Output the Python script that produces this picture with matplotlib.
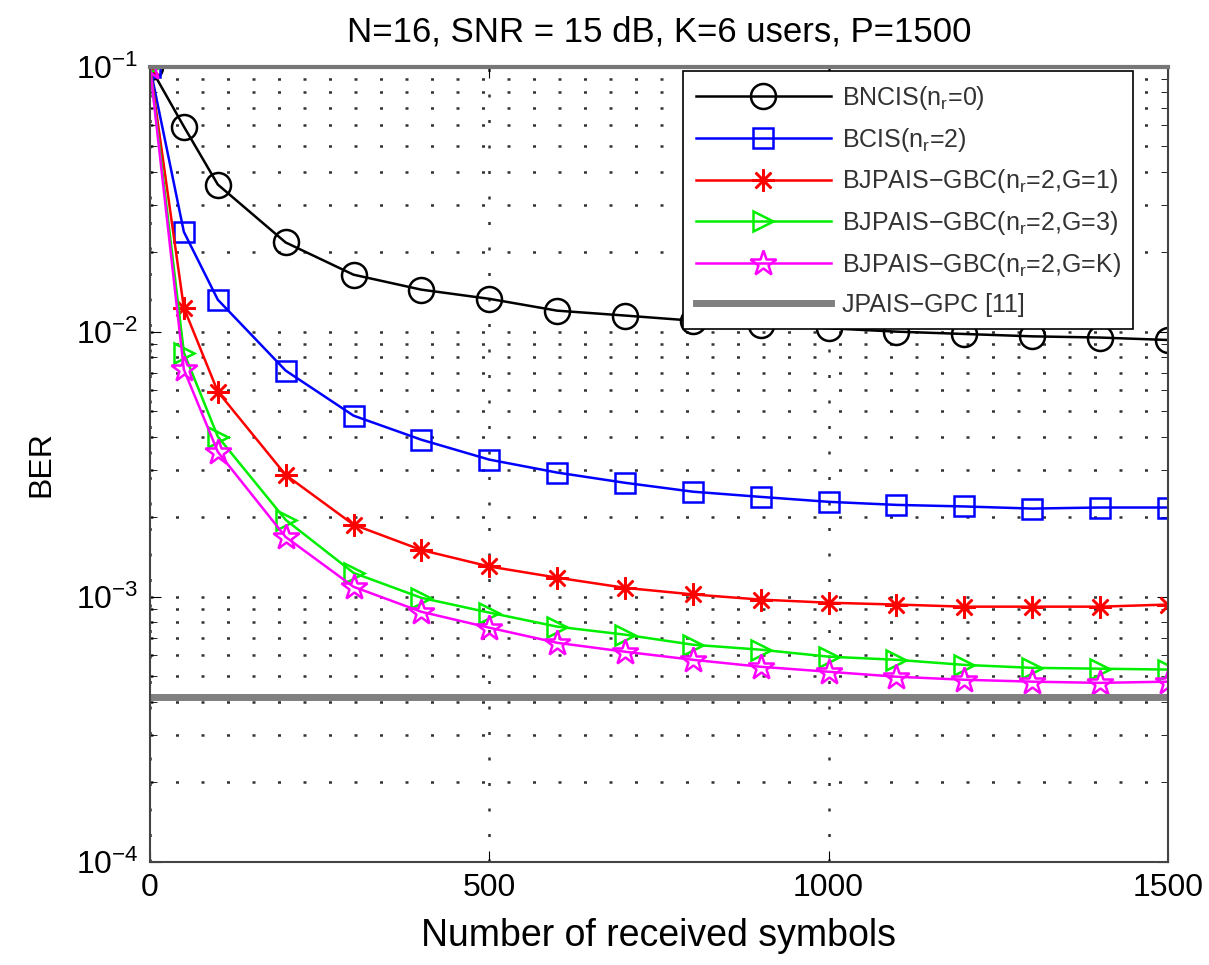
import matplotlib
matplotlib.use("Agg")
import matplotlib.pyplot as plt

plt.rcParams["font.family"] = ["Liberation Sans", "DejaVu Sans"]
plt.rcParams["mathtext.fontset"] = "custom"
plt.rcParams["mathtext.rm"] = "Liberation Sans"
plt.rcParams["mathtext.it"] = "Liberation Sans:italic"
plt.rcParams["mathtext.default"] = "regular"

# ---- dados ----
simbolos = [0, 50, 100, 200, 300, 400, 500, 600, 700, 800, 900,
            1000, 1100, 1200, 1300, 1400, 1500]

ber_bncis = [0.1, 0.0594, 0.0359, 0.0217, 0.0164, 0.0144, 0.0133, 0.0120,
             0.0115, 0.0110, 0.0106, 0.0103, 0.0100, 0.0098, 0.0096, 0.0095,
             0.0093]
ber_bcis = [0.1, 0.0238, 0.0132, 0.00713, 0.00482, 0.00391, 0.00329, 0.00294,
            0.00269, 0.00249, 0.00238, 0.00228, 0.00222, 0.00219, 0.00215,
            0.00217, 0.00217]
ber_g1 = [0.1, 0.0123, 0.00594, 0.00288, 0.00187, 0.00150, 0.00130, 0.00118,
          0.00108, 0.00102, 0.000975, 0.000949, 0.000934, 0.000917, 0.000917,
          0.000917, 0.000934]
ber_g3 = [0.1, 0.00834, 0.00402, 0.00195, 0.00123, 0.00099, 0.000871,
          0.000771, 0.000719, 0.000659, 0.000631, 0.000594, 0.000578,
          0.000553, 0.000539, 0.000535, 0.000531]
ber_gk = [0.1, 0.0072, 0.00352, 0.00168, 0.00109, 0.000877, 0.000764,
          0.000670, 0.000620, 0.000578, 0.000544, 0.000521, 0.000499,
          0.000486, 0.000478, 0.000473, 0.000478]
ber_jpais = 0.00042

rotulos = ["BNCIS(n$_r$=0)", "BCIS(n$_r$=2)", "BJPAIS\u2212GBC(n$_r$=2,G=1)",
           "BJPAIS\u2212GBC(n$_r$=2,G=3)", "BJPAIS\u2212GBC(n$_r$=2,G=K)",
           "JPAIS\u2212GPC [11]"]

fig = plt.figure(figsize=(12.09, 9.65), dpi=100)
ax = fig.add_axes([0.124, 0.107, 0.842, 0.824])

ax.plot(simbolos, ber_bncis, color="black", lw=1.8, marker="o", ms=18,
        mfc="none", mew=1.8, label=rotulos[0])
ax.plot(simbolos, ber_bcis, color="#0000ff", lw=1.8, marker="s", ms=14,
        mfc="none", mew=1.8, label=rotulos[1])
ax.plot(simbolos, ber_g1, color="#ff0000", lw=1.8, marker=(8, 2, 0), ms=16,
        mew=1.8, label=rotulos[2])
ax.plot(simbolos, ber_g3, color="#00ee00", lw=1.8, marker=">", ms=15,
        mfc="none", mew=1.8, label=rotulos[3])
ax.plot(simbolos, ber_gk, color="#ff00ff", lw=1.8, marker="*", ms=19,
        mfc="none", mew=1.8, label=rotulos[4])
ax.plot([simbolos[0], simbolos[-1]], [ber_jpais, ber_jpais], color="#808080",
        lw=5, label=rotulos[5])

ax.set_yscale("log")
ax.set_xlim(0, 1500)
ax.set_ylim(1e-4, 1e-1)
ax.set_xticks([0, 500, 1000, 1500])

pontilhado = (0, (1.2, 9))
ax.grid(True, which="major", axis="both", ls=pontilhado, color="#333333",
        lw=1.8)
ax.grid(True, which="minor", axis="y", ls=pontilhado, color="#333333", lw=1.8)
ax.tick_params(which="both", direction="in", top=True, right=True)
ax.tick_params(which="major", length=8, labelsize=23, pad=8)
ax.tick_params(which="minor", length=5)
ax.tick_params(axis="x", which="minor", top=False, bottom=False)
for s in ax.spines.values():
    s.set_color("#444444")
    s.set_linewidth(1.5)
ax.spines["top"].set_color("#777777")
ax.spines["top"].set_linewidth(3)

ax.set_xlabel("Number of received symbols", fontsize=27, labelpad=11)
ax.set_ylabel("BER", fontsize=23, labelpad=14)
ax.set_title("N=16, SNR = 15 dB, K=6 users, P=1500", fontsize=25, pad=18)

leg = ax.legend(loc="upper right", bbox_to_anchor=(0.966, 0.994),
                fontsize=18, handlelength=5.4, labelspacing=0.55,
                borderpad=0.5, handletextpad=0.45, borderaxespad=0,
                fancybox=False, framealpha=1, edgecolor="black")
leg.get_frame().set_linewidth(1.2)
for t in leg.get_texts():
    t.set_color("#333333")

fig.savefig("out.png", dpi=100)
